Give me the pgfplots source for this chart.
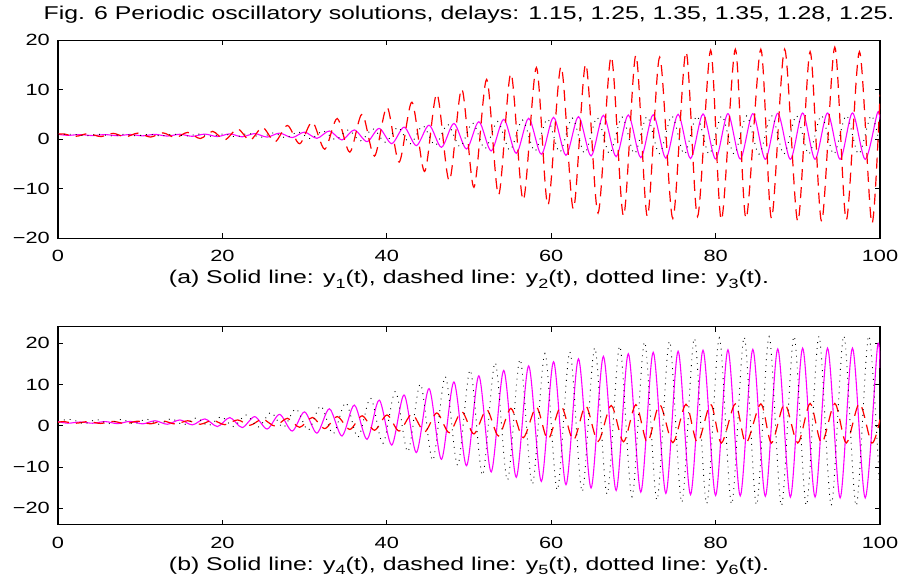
\documentclass[border=0pt]{standalone}
\usepackage{fontspec}
\setmainfont{Liberation Sans}[FakeStretch=1.34]
\usepackage{pgfplots}
\pgfplotsset{compat=1.18}
\definecolor{mmag}{RGB}{255,0,255}
\definecolor{mred}{RGB}{255,0,0}
\newcommand\sub[1]{\raisebox{-0.45ex}{\fontsize{13.5}{14}\selectfont #1}}

\pgfplotsset{
  matlab/.style={
    scale only axis, width=822bp, height=198bp,
    anchor=north west,
    xmin=0, xmax=100, xtick={0,20,40,60,80,100},
    tick align=inside, major tick length=5bp,
    axis line style={line width=1.1bp}, every tick/.style={line width=0.9bp, black},
    tick label style={font=\fontsize{16.3}{18}\selectfont},
    /pgf/number format/assume math mode=true,
    xticklabel style={anchor=base, yshift=-23.4bp, inner sep=0pt},
    yticklabel style={anchor=east, xshift=-8bp, inner sep=0pt},
    xlabel style={at={(0.5,0)}, anchor=base, yshift=-45.7bp, inner sep=0pt,
      font=\fontsize{18.6}{21}\selectfont},
    title style={at={(0.5,1)}, anchor=base, yshift=15bp, inner sep=0pt,
      font=\fontsize{18.6}{21}\selectfont},
  },
  ysol/.style={mmag, line width=1.1bp, smooth},
  ydash/.style={mred, line width=1.2bp, dash pattern=on 11bp off 7bp, smooth},
  ydot/.style={black, line width=0.9bp, dash pattern=on 0.9bp off 5bp, smooth},
}

\begin{document}
\begin{tikzpicture}
\path[use as bounding box] (-58bp,40.3bp) rectangle (851bp,-544.7bp);

% (a) y1, y2, y3
\begin{axis}[matlab, at={(0,0)},
  ymin=-20, ymax=20, ytick={-20,-10,0,10,20},
  yticklabels={−20,−10,0,10,20},
  title={Fig. 6 Periodic oscillatory solutions, delays: 1.15, 1.25, 1.35, 1.35, 1.28, 1.25.},
  xlabel={(a) Solid line: y\sub{1}(t), dashed line: y\sub{2}(t), dotted line: y\sub{3}(t).}]
\addplot[ysol] coordinates {
(0,1.0) (1.2,0.8) (2.72,0.95) (4.2,0.75) (5.75,0.95) (7.25,0.72) (8.78,0.97)
(10.3,0.7) (11.81,1.0) (13.3,0.65) (14.84,1.02) (16.35,0.6) (17.87,1.05)
(19.4,0.55) (20.9,1.1) (22.4,0.5) (23.93,1.15) (25.45,0.45) (26.96,1.25)
(28.5,0.35) (29.99,1.45) (31.5,0.2) (33.02,1.68) (34.55,-0.14) (36.05,1.9)
(37.6,-0.47) (39.08,2.2) (40.6,-0.88) (42.11,2.45) (43.6,-1.28) (45.14,2.85)
(46.65,-1.62) (48.17,3.2) (49.7,-1.96) (51.2,3.56) (52.7,-2.36) (54.23,4.04)
(55.75,-2.83) (57.26,4.24) (58.8,-3.03) (60.29,4.44) (61.8,-3.23) (63.32,4.58)
(64.85,-3.37) (66.35,4.85) (67.9,-3.5) (69.38,4.92) (70.9,-3.7) (72.41,4.98)
(73.95,-3.84) (75.44,5.05) (76.95,-3.9) (78.47,5.12) (80.0,-3.98) (81.5,5.18)
(83.0,-3.98) (84.53,5.18) (86.05,-4.04) (87.56,5.25) (89.1,-4.04) (90.59,5.3)
(92.1,-4.04) (93.62,5.32) (95.15,-4.04) (96.65,5.32) (98.2,-4.04) (99.68,5.3)
(100,4.0)};
\addplot[ydash] coordinates {
(0,1.0) (0.64,1.1) (2.15,0.6) (3.67,1.15) (5.2,0.55) (6.7,1.2) (8.2,0.5)
(9.73,1.25) (11.25,0.45) (12.76,1.3) (14.3,0.35) (15.79,1.4) (17.3,0.15)
(18.82,1.6) (20.3,-0.1) (21.85,2.1) (23.35,-0.2) (24.88,2.4) (26.4,-0.5)
(27.91,2.8) (29.4,-0.9) (30.94,3.5) (32.45,-2.0) (33.97,4.2) (35.5,-2.6)
(37.0,5.1) (38.5,-3.4) (40.03,6.5) (41.5,-4.6) (43.06,7.5) (44.6,-6.5)
(46.09,9.2) (47.6,-8.4) (49.12,10.2) (50.6,-9.7) (52.15,12.1) (53.6,-11.25)
(55.1,13.3) (56.6,-12.3) (58.2,14.5) (59.6,-13.3) (61.2,14.7) (62.7,-14.1)
(64.2,15.2) (65.7,-14.9) (67.3,16.7) (68.8,-15.5) (70.3,17.0) (71.7,-15.6)
(73.2,16.6) (74.8,-16.0) (76.4,17.7) (77.8,-15.6) (79.4,18.0) (80.7,-16.3)
(82.4,18.2) (83.7,-16.0) (85.5,18.2) (86.8,-16.0) (88.4,18.2) (90.0,-16.6)
(91.5,17.7) (92.9,-16.6) (94.5,18.6) (95.9,-16.3) (97.5,17.7) (99.0,-17.0)
(100,9.0)};
\addplot[ydot] coordinates {
(0,1.0) (1.97,1.0) (3.47,0.7) (5.0,1.0) (6.5,0.7) (8.03,1.0) (9.53,0.7)
(11.06,1.0) (12.56,0.7) (14.09,1.05) (15.59,0.65) (17.12,1.05) (18.62,0.6)
(20.15,1.1) (21.65,0.5) (23.18,1.2) (24.68,0.4) (26.21,1.3) (27.71,0.3)
(29.24,1.5) (30.74,0.1) (32.27,1.7) (33.77,-0.1) (35.3,1.9) (36.8,-0.3)
(38.33,2.1) (39.83,-0.6) (41.36,2.4) (42.86,-0.9) (44.39,2.7) (45.89,-1.2)
(47.42,3.0) (48.92,-1.5) (50.45,3.3) (51.95,-1.9) (53.48,3.6) (54.98,-2.2)
(56.51,3.9) (58.01,-2.4) (59.54,4.1) (61.04,-2.6) (62.57,4.3) (64.07,-2.8)
(65.6,4.4) (67.1,-2.9) (68.63,4.5) (70.13,-2.9) (71.66,4.6) (73.16,-2.9)
(74.69,4.7) (76.19,-3.0) (77.72,4.7) (79.22,-3.0) (80.75,4.75) (82.25,-3.0)
(83.78,4.75) (85.28,-3.0) (86.81,4.8) (88.31,-3.0) (89.84,4.8) (91.34,-3.0)
(92.87,4.8) (94.37,-3.0) (95.9,4.8) (97.4,-3.0) (98.93,4.8) (100,-1.5)};
\end{axis}

% (b) y4, y5, y6
\begin{axis}[matlab, at={(0,-286.4bp)},
  ymin=-24, ymax=24, ytick={-20,-10,0,10,20},
  yticklabels={−20,−10,0,10,20},
  xlabel={(b) Solid line: y\sub{4}(t), dashed line: y\sub{5}(t), dotted line: y\sub{6}(t).}]
\addplot[ysol] coordinates {
(0,1.0) (1.2,0.6) (2.72,0.9) (4.2,0.6) (5.75,1.0) (7.25,0.5) (8.78,1.05)
(10.3,0.45) (11.81,1.2) (13.3,0.35) (14.84,1.4) (16.35,0.2) (17.87,1.65)
(19.4,-0.2) (20.9,1.97) (22.4,-0.45) (23.93,2.2) (25.45,-0.8) (26.96,2.75)
(28.5,-1.3) (29.99,3.35) (31.5,-1.8) (33.02,4.1) (34.55,-2.5) (36.05,5.0)
(37.6,-3.3) (39.08,6.2) (40.6,-4.7) (42.11,7.45) (43.6,-6.5) (45.14,9.0)
(46.65,-8.15) (48.17,10.6) (49.7,-9.7) (51.2,12.1) (52.7,-11.2) (54.23,13.4)
(55.75,-12.5) (57.26,14.5) (58.8,-13.5) (60.29,15.5) (61.8,-14.3) (63.32,16.2)
(64.85,-15.1) (66.35,16.8) (67.9,-15.7) (69.38,17.45) (70.9,-16.1) (72.41,17.8)
(73.95,-16.4) (75.44,18.05) (76.95,-16.7) (78.47,18.3) (80.0,-16.9) (81.5,18.4)
(83.0,-17.0) (84.53,18.5) (86.05,-17.1) (87.56,18.6) (89.1,-17.3) (90.59,18.8)
(92.1,-17.3) (93.62,18.8) (95.15,-17.5) (96.65,18.8) (98.2,-17.5) (99.68,18.95)
(100,14.0)};
\addplot[ydash] coordinates {
(0,0.8) (0.64,1.0) (2.15,0.6) (3.67,1.0) (5.2,0.55) (6.7,1.05) (8.2,0.5)
(9.73,1.1) (11.25,0.45) (12.76,1.15) (14.3,0.4) (15.79,1.2) (17.3,0.35)
(18.82,1.3) (20.3,0.25) (21.85,1.4) (23.35,0.1) (24.88,1.6) (26.4,-0.1)
(27.91,1.8) (29.4,-0.4) (30.94,2.0) (32.45,-0.7) (33.97,2.2) (35.5,-0.9)
(37.0,2.4) (38.5,-1.1) (40.03,2.6) (41.5,-1.3) (43.06,2.8) (44.6,-1.5)
(46.09,3.1) (47.6,-1.7) (49.12,3.4) (50.6,-2.0) (52.15,3.9) (53.6,-2.5)
(55.1,4.2) (56.6,-2.9) (58.2,4.5) (59.6,-3.3) (61.2,4.7) (62.7,-3.5)
(64.2,4.8) (65.7,-3.8) (67.3,4.9) (68.8,-3.9) (70.3,5.1) (71.7,-4.0)
(73.2,5.1) (74.8,-4.1) (76.4,5.2) (77.8,-4.1) (79.4,5.2) (80.7,-4.2)
(82.4,5.3) (83.7,-4.2) (85.5,5.3) (86.8,-4.2) (88.4,5.3) (90.0,-4.2)
(91.5,5.4) (92.9,-4.2) (94.5,5.4) (95.9,-4.2) (97.5,5.4) (99.0,-4.2)
(100,1.5)};
\addplot[ydot] coordinates {
(0,1.2) (1.67,1.5) (3.17,0.5) (4.7,1.5) (6.2,0.5) (7.73,1.55) (9.23,0.45)
(10.76,1.6) (12.26,0.35) (13.79,1.7) (15.29,0.2) (16.82,1.9) (18.32,0.0)
(19.85,2.2) (21.35,-0.2) (22.88,2.6) (24.38,-0.3) (25.91,3.2) (27.41,-0.4)
(28.94,4.1) (30.44,-1.1) (31.97,4.8) (33.47,-2.0) (35.0,5.6) (36.5,-2.8)
(38.03,6.7) (39.53,-4.3) (41.06,8.3) (42.56,-6.3) (44.09,10.1) (45.59,-8.4)
(47.12,11.9) (48.62,-9.6) (50.15,13.5) (51.65,-12.0) (53.18,15.3) (54.68,-13.2)
(56.21,16.1) (57.71,-14.2) (59.24,17.5) (60.74,-15.6) (62.27,17.9) (63.77,-16.0)
(65.3,18.9) (66.8,-16.6) (68.33,19.3) (69.83,-17.2) (71.36,20.3) (72.86,-18.0)
(74.39,20.5) (75.89,-18.6) (77.42,21.2) (78.92,-18.9) (80.45,21.3) (81.95,-19.0)
(83.48,21.5) (84.98,-19.2) (86.51,21.6) (88.01,-19.4) (89.54,21.7) (91.04,-19.3)
(92.57,21.7) (94.07,-19.3) (95.6,21.8) (97.1,-19.4) (98.63,21.8) (100,-17.0)};
\end{axis}
\end{tikzpicture}
\end{document}
